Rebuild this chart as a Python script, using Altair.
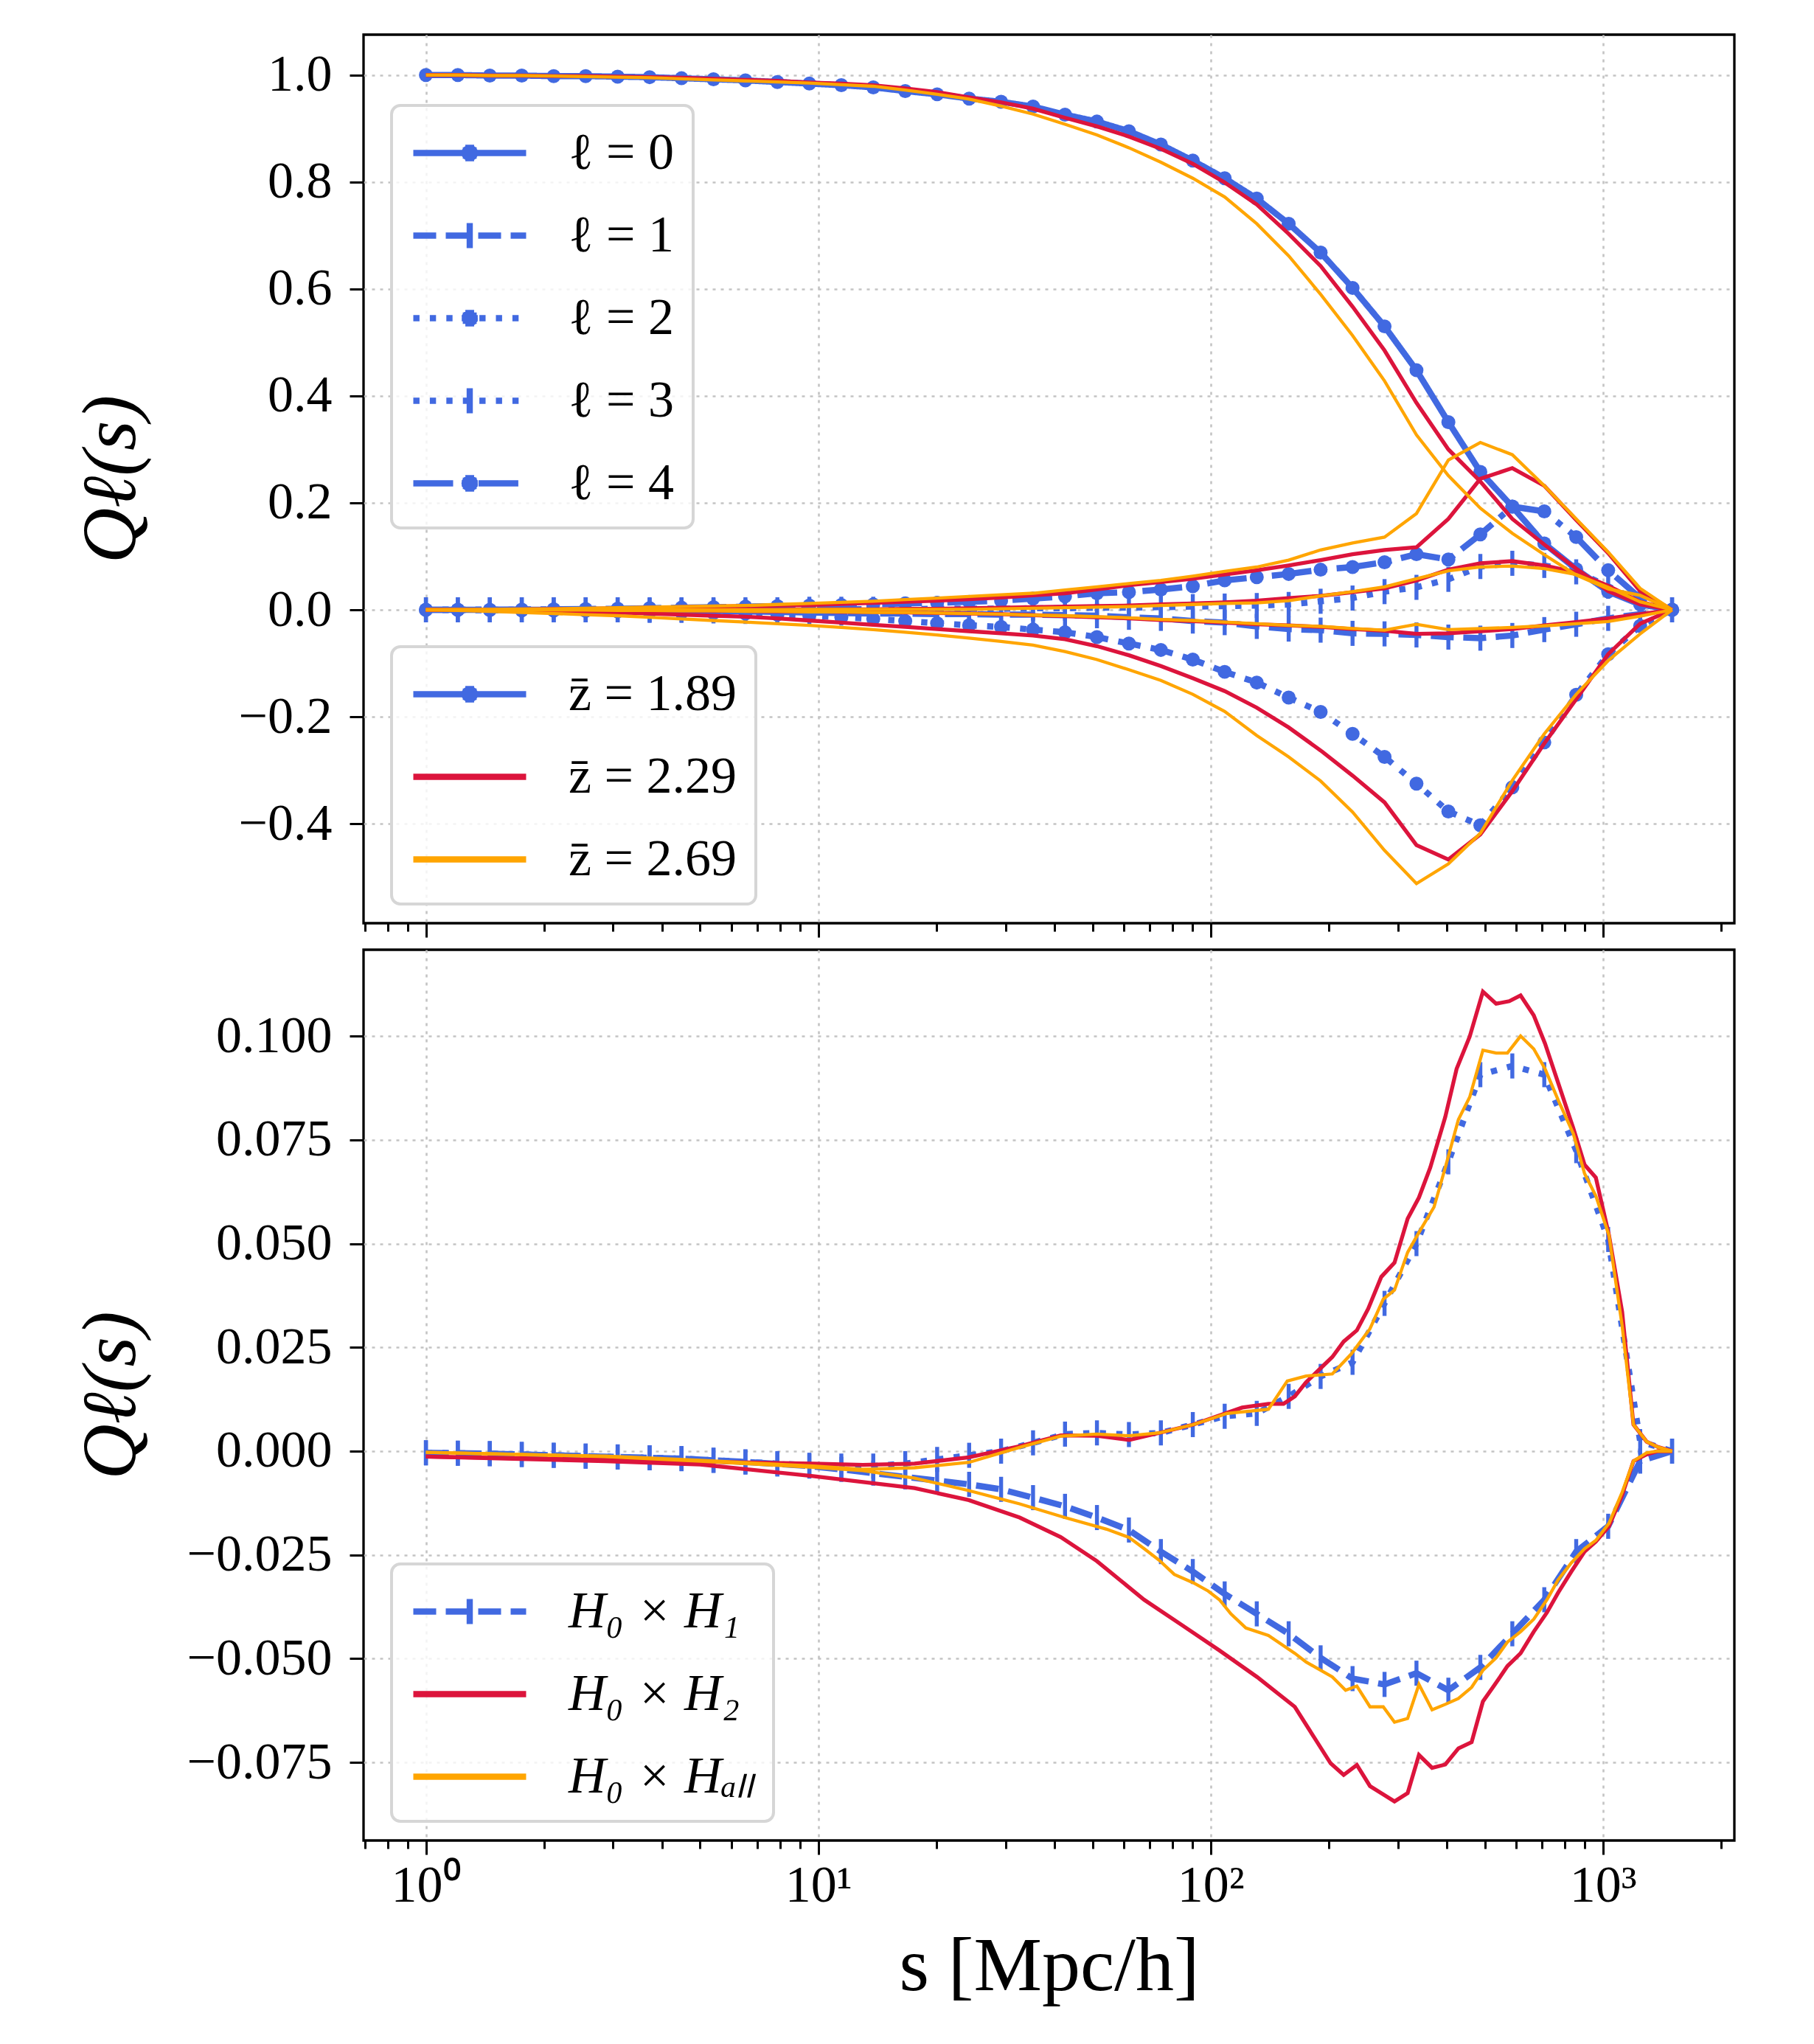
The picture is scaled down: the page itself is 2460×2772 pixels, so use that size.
import math
import altair as alt
import pandas as pd

BLUE = "#4169E1"
RED = "#DC143C"
ORANGE = "#FFA500"
FONT = "Liberation Serif"

# ---------------- data ----------------
# log-spaced separations s [Mpc/h] (40 points)
S = [1.0, 1.206, 1.455, 1.755, 2.117, 2.554, 3.081, 3.717, 4.482, 5.407,
     6.522, 7.867, 9.49, 11.45, 13.81, 16.66, 20.09, 24.24, 29.24, 35.27,
     42.55, 51.32, 61.91, 74.68, 90.07, 108.6, 131.1, 158.1, 190.7, 230.0,
     277.5, 334.7, 403.6, 486.9, 587.4, 708.6, 854.6, 1031.0, 1244.0, 1500.0]

# top panel, z = 1.89 (blue)
B0 = [1.0, 1.0, 0.999, 0.999, 0.998, 0.998, 0.997, 0.996, 0.994, 0.992, 0.990, 0.987, 0.984, 0.981, 0.977, 0.970, 0.964, 0.956, 0.950, 0.941, 0.926, 0.913, 0.895, 0.870, 0.840, 0.807, 0.769, 0.722, 0.668, 0.602, 0.530, 0.448, 0.351, 0.258, 0.193, 0.124, 0.076, 0.034, 0.010, 0.0]
B1 = [0.0, 0.0, 0.0, 0.0, 0.0, 0.0, 0.0, -0.001, -0.001, -0.002, -0.003, -0.004, -0.005, -0.006, -0.007, -0.007, -0.008, -0.008, -0.009, -0.009, -0.010, -0.011, -0.014, -0.016, -0.021, -0.024, -0.031, -0.036, -0.038, -0.044, -0.045, -0.047, -0.051, -0.053, -0.048, -0.037, -0.027, -0.016, -0.008, 0.0]
B2 = [0.0, 0.0, -0.0005, -0.001, -0.0015, -0.002, -0.003, -0.004, -0.005, -0.006, -0.007, -0.009, -0.011, -0.014, -0.017, -0.021, -0.025, -0.029, -0.032, -0.037, -0.042, -0.051, -0.063, -0.075, -0.093, -0.116, -0.136, -0.164, -0.191, -0.232, -0.275, -0.325, -0.377, -0.403, -0.332, -0.248, -0.159, -0.083, -0.030, 0.0]
B3 = [0.0, 0.0, 0.0, 0.0, 0.0, 0.0, 0.0, 0.0, 0.0, 0.0, 0.0, 0.0, 0.001, 0.001, 0.001, 0.001, 0.002, 0.002, 0.002, 0.003, 0.003, 0.004, 0.004, 0.005, 0.006, 0.007, 0.008, 0.010, 0.016, 0.022, 0.034, 0.042, 0.057, 0.081, 0.087, 0.083, 0.071, 0.044, 0.015, 0.0]
B4 = [0.0, 0.0, 0.0, 0.0005, 0.001, 0.0015, 0.002, 0.003, 0.004, 0.005, 0.006, 0.007, 0.008, 0.009, 0.010, 0.012, 0.013, 0.015, 0.017, 0.021, 0.025, 0.031, 0.033, 0.038, 0.044, 0.055, 0.061, 0.067, 0.075, 0.080, 0.089, 0.104, 0.094, 0.141, 0.193, 0.184, 0.136, 0.074, 0.022, 0.0]

# top panel, z = 2.29 (red)
R0 = [1.0, 1.0, 0.999, 0.999, 0.998, 0.998, 0.997, 0.996, 0.995, 0.993, 0.991, 0.989, 0.986, 0.984, 0.981, 0.975, 0.968, 0.958, 0.949, 0.937, 0.920, 0.904, 0.885, 0.862, 0.834, 0.799, 0.758, 0.703, 0.643, 0.567, 0.485, 0.387, 0.300, 0.240, 0.170, 0.122, 0.077, 0.035, 0.010, 0.0]
R1 = [0.0, 0.0, 0.0, 0.0, 0.0, 0.0, 0.0, -0.001, -0.001, -0.002, -0.002, -0.003, -0.003, -0.004, -0.004, -0.005, -0.006, -0.007, -0.008, -0.010, -0.012, -0.014, -0.016, -0.019, -0.021, -0.024, -0.027, -0.029, -0.032, -0.036, -0.039, -0.045, -0.044, -0.040, -0.036, -0.029, -0.023, -0.016, -0.008, 0.0]
R2 = [0.0, 0.0, -0.001, -0.002, -0.003, -0.004, -0.005, -0.007, -0.009, -0.011, -0.013, -0.016, -0.020, -0.024, -0.028, -0.032, -0.036, -0.040, -0.044, -0.048, -0.055, -0.068, -0.085, -0.105, -0.128, -0.152, -0.183, -0.220, -0.263, -0.310, -0.360, -0.440, -0.467, -0.420, -0.339, -0.250, -0.167, -0.083, -0.026, 0.0]
R3 = [0.0, 0.0, 0.0, 0.0, 0.0, 0.0, 0.0, 0.0, 0.0, 0.0, 0.0, 0.0, 0.001, 0.001, 0.001, 0.002, 0.002, 0.003, 0.004, 0.005, 0.006, 0.007, 0.008, 0.010, 0.012, 0.014, 0.017, 0.022, 0.026, 0.033, 0.040, 0.055, 0.075, 0.087, 0.091, 0.083, 0.070, 0.045, 0.015, 0.0]
R4 = [0.0, 0.0, 0.0005, 0.001, 0.0015, 0.002, 0.003, 0.004, 0.005, 0.006, 0.007, 0.008, 0.009, 0.011, 0.013, 0.015, 0.017, 0.020, 0.023, 0.027, 0.031, 0.038, 0.046, 0.052, 0.058, 0.066, 0.074, 0.083, 0.093, 0.104, 0.112, 0.117, 0.170, 0.245, 0.265, 0.232, 0.168, 0.106, 0.035, 0.0]

# top panel, z = 2.69 (orange)
O0 = [1.0, 1.0, 0.999, 0.999, 0.998, 0.997, 0.996, 0.995, 0.993, 0.991, 0.989, 0.987, 0.985, 0.982, 0.979, 0.972, 0.964, 0.955, 0.942, 0.927, 0.908, 0.888, 0.864, 0.837, 0.807, 0.772, 0.722, 0.662, 0.590, 0.513, 0.428, 0.327, 0.251, 0.190, 0.143, 0.103, 0.065, 0.039, 0.027, 0.0]
O1 = [0.0, 0.0, 0.0, 0.0, 0.0, 0.0, -0.001, -0.001, -0.002, -0.002, -0.003, -0.003, -0.004, -0.004, -0.005, -0.005, -0.006, -0.007, -0.008, -0.010, -0.011, -0.013, -0.015, -0.018, -0.020, -0.023, -0.026, -0.029, -0.031, -0.035, -0.038, -0.027, -0.037, -0.035, -0.033, -0.030, -0.026, -0.022, -0.012, 0.0]
O2 = [0.0, -0.001, -0.003, -0.005, -0.007, -0.009, -0.011, -0.014, -0.017, -0.020, -0.023, -0.026, -0.029, -0.033, -0.037, -0.042, -0.047, -0.053, -0.059, -0.066, -0.078, -0.093, -0.112, -0.132, -0.158, -0.190, -0.235, -0.275, -0.320, -0.378, -0.450, -0.512, -0.475, -0.418, -0.319, -0.232, -0.158, -0.095, -0.045, 0.0]
O3 = [0.0, 0.0, 0.0, 0.0, 0.0, 0.0, 0.0, 0.0, 0.0, 0.0, 0.0, 0.0, 0.001, 0.001, 0.001, 0.001, 0.001, 0.001, 0.002, 0.003, 0.004, 0.005, 0.006, 0.008, 0.010, 0.012, 0.013, 0.017, 0.026, 0.034, 0.043, 0.058, 0.073, 0.080, 0.082, 0.077, 0.066, 0.042, 0.015, 0.0]
O4 = [0.0, 0.0005, 0.001, 0.0015, 0.002, 0.003, 0.004, 0.005, 0.006, 0.007, 0.008, 0.010, 0.012, 0.014, 0.016, 0.019, 0.022, 0.025, 0.028, 0.031, 0.037, 0.043, 0.049, 0.055, 0.063, 0.072, 0.080, 0.093, 0.112, 0.125, 0.136, 0.180, 0.280, 0.313, 0.290, 0.232, 0.170, 0.108, 0.040, 0.0]

# bottom panel, H0 x H1 (blue), l=1 (dashed) and l=3 (dotted)
BB1 = [-0.0004, -0.0005, -0.0006, -0.0008, -0.0010, -0.0012, -0.0014, -0.0016, -0.0018, -0.0022, -0.0026, -0.0031, -0.0036, -0.0044, -0.0053, -0.0062, -0.0071, -0.0080, -0.0092, -0.0112, -0.0133, -0.0160, -0.0190, -0.0242, -0.0290, -0.0344, -0.0392, -0.0440, -0.0498, -0.0548, -0.0562, -0.0535, -0.0576, -0.0521, -0.0440, -0.0358, -0.0242, -0.0181, -0.0024, 0.0]
BB3 = [-0.0004, -0.0005, -0.0006, -0.0008, -0.0010, -0.0012, -0.0014, -0.0016, -0.0018, -0.0022, -0.0026, -0.0030, -0.0034, -0.0036, -0.0036, -0.0030, -0.0020, -0.0010, 0.0, 0.0020, 0.0041, 0.0044, 0.0040, 0.0044, 0.0064, 0.0084, 0.0091, 0.0132, 0.0180, 0.0214, 0.0356, 0.0500, 0.0697, 0.0907, 0.0928, 0.0907, 0.0724, 0.0510, 0.0023, 0.0]

# bottom panel, H0 x H2 (red): upper (l=3) and lower (l=1) branches
RU_S = [1.0, 2.86, 9.7, 13.0, 17.6, 24.2, 32.6, 41.5, 51.3, 62.0, 74.0, 90.3, 120.3, 140.4, 153.4, 163.9, 175.1, 204.3, 218.3, 235.9, 252.1, 272.3, 294.2, 317.8, 339.6, 362.9, 396.3, 423.6, 457.5, 494.3, 534.1, 576.9, 616.6, 666.1, 711.7, 768.8, 840.2, 897.5, 959.0, 1036.0, 1119.0, 1196.0, 1292.0, 1380.0, 1501.0]
RU_V = [-0.0013, -0.0021, -0.0030, -0.0033, -0.0030, -0.0015, 0.0012, 0.0038, 0.0037, 0.0027, 0.0044, 0.0064, 0.0105, 0.0114, 0.0114, 0.0132, 0.0166, 0.0227, 0.0264, 0.0291, 0.0343, 0.0420, 0.0454, 0.0560, 0.0611, 0.0683, 0.0805, 0.0921, 0.0999, 0.1107, 0.1078, 0.1084, 0.1098, 0.1050, 0.0982, 0.0887, 0.0778, 0.0690, 0.0659, 0.0520, 0.0336, 0.0064, 0.0023, 0.0010, 0.0]
RL_S = [1.0, 2.86, 5.0, 9.7, 17.6, 24.2, 32.6, 41.5, 51.3, 67.7, 84.5, 105.3, 131.3, 163.9, 202.2, 218.3, 235.9, 254.8, 275.4, 294.2, 317.8, 339.6, 366.8, 396.3, 428.1, 462.6, 494.3, 534.1, 570.7, 616.6, 666.1, 719.5, 768.8, 830.6, 897.5, 959.0, 1036.0, 1119.0, 1196.0, 1292.0, 1380.0, 1501.0]
RL_V = [-0.0013, -0.0024, -0.0032, -0.0060, -0.0089, -0.0118, -0.0160, -0.0207, -0.0265, -0.0358, -0.0419, -0.0480, -0.0544, -0.0616, -0.0752, -0.0780, -0.0756, -0.0807, -0.0827, -0.0844, -0.0824, -0.0732, -0.0763, -0.0755, -0.0716, -0.0701, -0.0603, -0.0558, -0.0518, -0.0487, -0.0435, -0.0389, -0.0341, -0.0290, -0.0242, -0.0218, -0.0181, -0.0106, -0.0024, -0.0008, 0.0, 0.0]

# bottom panel, H0 x Hall (orange)
OU_S = [1.0, 2.86, 5.0, 9.7, 13.0, 17.6, 24.2, 32.6, 41.5, 51.3, 62.0, 74.0, 90.3, 110.1, 140.4, 156.8, 175.1, 204.3, 228.2, 254.8, 275.4, 294.2, 317.8, 339.6, 371.0, 396.3, 428.1, 457.5, 494.3, 534.1, 570.7, 616.6, 666.1, 711.7, 768.8, 840.2, 897.5, 959.0, 1036.0, 1119.0, 1196.0, 1292.0, 1380.0, 1501.0]
OU_V = [-0.0003, -0.0012, -0.0022, -0.0036, -0.0044, -0.0040, -0.0027, 0.0009, 0.0036, 0.0041, 0.0037, 0.0044, 0.0064, 0.0091, 0.0101, 0.0169, 0.0181, 0.0186, 0.0234, 0.0295, 0.0366, 0.0388, 0.0479, 0.0527, 0.0588, 0.0683, 0.0799, 0.0853, 0.0966, 0.0959, 0.0959, 0.1000, 0.0969, 0.0921, 0.0846, 0.0765, 0.0669, 0.0615, 0.0520, 0.0302, 0.0064, 0.0023, 0.0010, 0.0]
OL_S = [1.0, 2.86, 5.0, 9.7, 13.0, 17.6, 24.2, 32.6, 42.5, 54.3, 62.0, 67.7, 74.0, 80.8, 90.3, 98.6, 105.3, 112.6, 123.0, 140.4, 163.9, 175.1, 204.3, 220.8, 235.9, 254.8, 275.4, 294.2, 317.8, 339.6, 366.8, 396.3, 428.1, 462.6, 494.3, 534.1, 570.7, 616.6, 666.1, 719.5, 768.8, 830.6, 897.5, 959.0, 1036.0, 1119.0, 1196.0, 1292.0, 1380.0, 1501.0]
OL_V = [-0.0003, -0.0013, -0.0024, -0.0039, -0.0047, -0.0065, -0.0095, -0.0127, -0.0160, -0.0188, -0.0208, -0.0235, -0.0263, -0.0297, -0.0317, -0.0337, -0.0358, -0.0392, -0.0426, -0.0444, -0.0487, -0.0508, -0.0544, -0.0576, -0.0566, -0.0616, -0.0616, -0.0653, -0.0644, -0.0562, -0.0623, -0.0610, -0.0596, -0.0569, -0.0528, -0.0498, -0.0460, -0.0435, -0.0405, -0.0358, -0.0310, -0.0269, -0.0235, -0.0215, -0.0174, -0.0099, -0.0024, -0.0004, 0.0, 0.0]

ELL = ["0", "1", "2", "3", "4"]
ELL_LABELS = ["\u2113 = 0", "\u2113 = 1", "\u2113 = 2", "\u2113 = 3", "\u2113 = 4"]
Z_LABELS = ["z\u0304 = 1.89", "z\u0304 = 2.29", "z\u0304 = 2.69"]
H_LABELS = ["H\u2080 \u00d7 H\u2081", "H\u2080 \u00d7 H\u2082", "H\u2080 \u00d7 H\u2090\u2097\u2097"]
XTICKS = [0.7, 0.8, 0.9, 1, 2, 3, 4, 5, 6, 7, 8, 9, 10, 20, 30, 40, 50, 60, 70, 80, 90,
          100, 200, 300, 400, 500, 600, 700, 800, 900, 1000, 2000]
YTICKS_TOP = [-0.4, -0.2, 0.0, 0.2, 0.4, 0.6, 0.8, 1.0]
YTICKS_BOT = [-0.075, -0.05, -0.025, 0.0, 0.025, 0.05, 0.075, 0.1]

# ---------------- tables ----------------
def long_table(arrays, keys, xs=S):
    rows = []
    for key, arr in zip(keys, arrays):
        for s, v in zip(xs, arr):
            rows.append({"s": s, "v": v, "ell": key})
    return pd.DataFrame(rows)

top_blue = long_table([B0, B1, B2, B3, B4], ELL)
top_red = long_table([R0, R1, R2, R3, R4], ELL)
top_orange = long_table([O0, O1, O2, O3, O4], ELL)
bot_blue = long_table([BB1, BB3], ["1", "3"])
bot_red = pd.concat([
    pd.DataFrame({"s": RU_S, "v": RU_V, "ell": "3"}),
    pd.DataFrame({"s": RL_S, "v": RL_V, "ell": "1"})])
bot_orange = pd.concat([
    pd.DataFrame({"s": OU_S, "v": OU_V, "ell": "3"}),
    pd.DataFrame({"s": OL_S, "v": OL_V, "ell": "1"})])

# ---------------- styles ----------------
W = 1859
H_TOP = 1205
H_BOT = 1208
LW_B = 8.4
LW_R = 5.3
LW_O = 4.3
DASHES = [[1, 0], [31, 13], [8.4, 14], [8.4, 14], [54, 13, 8.4, 13]]
TICK_SHAPE = "M0,-1V1"
GRID_COLOR = "#c4c4c4"
GRID_DASH = [4, 7]

MAJOR = "abs(log(datum.value)/LN10 - round(log(datum.value)/LN10)) < 0.001"
LABEL_EXPR = ("datum.value == 1 ? '10\u2070' : datum.value == 10 ? '10\u00b9' : "
              "datum.value == 100 ? '10\u00b2' : datum.value == 1000 ? '10\u00b3' : ''")

XSCALE = alt.Scale(type="log", domain=[0.6935, 2162], nice=False)


def x_axis(bottom):
    kw = dict(values=XTICKS, grid=True, gridColor=GRID_COLOR, gridDash=GRID_DASH, gridWidth=2.6,
              gridOpacity={"condition": {"test": MAJOR, "value": 1}, "value": 0},
              tickSize={"condition": {"test": MAJOR, "value": 19}, "value": 11},
              tickWidth=3, tickColor="black", domain=False, labelOverlap=False,
              labelFlush=False)
    if bottom:
        kw.update(labelExpr=LABEL_EXPR, labelFont=FONT, labelFontSize=70, labelPadding=8,
                  title="s [Mpc/h]", titleFont=FONT, titleFontSize=104, titleColor="black",
                  titleFontWeight="normal", titlePadding=24, labelColor="black")
    else:
        kw.update(labels=False, title=None)
    return alt.Axis(**kw)


def y_axis(values, fmt, h):
    return alt.Axis(values=values, format=fmt, grid=True, domain=False,
                    gridColor=GRID_COLOR, gridDash=GRID_DASH, gridWidth=2.6,
                    tickSize=19, tickWidth=3, tickColor="black",
                    labelFont=FONT, labelFontSize=70, labelPadding=24, labelColor="black",
                    labelLimit=0,
                    title="Q\u2113(s)", titleFont=FONT, titleFontSize=104, titleColor="black",
                    titleFontStyle="italic", titleFontWeight="normal",
                    titleX=-342, titleY=h / 2, titleAngle=270,
                    titleAlign="center", titleBaseline="middle")


# legend symbols: custom paths (line + marker); r = sqrt(4900)/2 = 35 px
SYM = 4900
L_END = 3.371
CX = 1.186
LINE = f"M-1,0H{L_END}"
# filled dot: small filled polygon plus short stroked chords (each shorter than one dash)
poly = []
for i in range(16):
    a = 2 * math.pi * i / 16
    poly.append(f"{CX + 0.2 * math.cos(a):.3f},{0.2 * math.sin(a):.3f}")
DOT_FILL = "M" + "L".join(poly) + "Z"
DOT_ROWS = [(-0.2, 0.17), (-0.1, 0.27), (0.0, 0.31), (0.1, 0.27), (0.2, 0.17)]
dot_parts = []
for yy, hw in DOT_ROWS:
    n = max(2, math.ceil(2 * hw / 0.19))
    step = 2 * hw / n
    for i in range(n):
        x0 = CX - hw + i * step
        dot_parts.append(f"M{x0:.3f},{yy:.3f}H{x0 + step:.3f}")
DOT = DOT_FILL + "".join(dot_parts)
TICK = "".join(f"M{CX},{-0.486 + 0.1944 * i:.3f}V{-0.486 + 0.1944 * (i + 1):.3f}" for i in range(5))
SYM_DOT = LINE + DOT
SYM_TICK = LINE + TICK


def legend(x, y, style="normal"):
    return alt.Legend(orient="none", legendX=x, legendY=y, title=None, direction="vertical",
                      labelFont=FONT, labelFontSize=70, labelColor="black", labelFontStyle=style,
                      symbolSize=SYM, symbolStrokeWidth=LW_B, rowPadding=37,
                      labelOffset=136, padding=25, fillColor="rgba(255,255,255,0.8)",
                      strokeColor="#d6d6d6", cornerRadius=12, labelLimit=0, symbolLimit=0)


def legend_layer(field, labels, shapes, colors, dashes, lx, ly, style="normal"):
    df = pd.DataFrame({"s": [1.0] * len(labels), "v": [0.0] * len(labels), field: labels})
    leg = legend(lx, ly, style)
    return alt.Chart(df).transform_filter("false").mark_point(
        filled=True, opacity=1, size=SYM, strokeWidth=LW_B).encode(
        x=alt.X("s:Q", scale=XSCALE),
        y=alt.Y("v:Q"),
        shape=alt.Shape(f"{field}:N", scale=alt.Scale(domain=labels, range=shapes), legend=leg),
        fill=alt.Fill(f"{field}:N", scale=alt.Scale(domain=labels, range=colors), legend=leg),
        stroke=alt.Stroke(f"{field}:N", scale=alt.Scale(domain=labels, range=colors), legend=leg),
        strokeDash=alt.StrokeDash(f"{field}:N", scale=alt.Scale(domain=labels, range=dashes), legend=leg),
    )


def panel(blue_df, red_df, orange_df, ydomain, yvalues, yfmt, h, bottom, legends):
    X = alt.X("s:Q", scale=XSCALE, axis=x_axis(bottom))
    Y = alt.Y("v:Q", scale=alt.Scale(domain=ydomain, nice=False, zero=False),
              axis=y_axis(yvalues, yfmt, h))
    dash_dom = ELL if not bottom else ["1", "3"]
    dash_rng = DASHES if not bottom else [DASHES[1], DASHES[3]]
    blue_lines = alt.Chart(blue_df).mark_line(color=BLUE, strokeWidth=LW_B).encode(
        x=X, y=Y,
        strokeDash=alt.StrokeDash("ell:N", scale=alt.Scale(domain=dash_dom, range=dash_rng), legend=None))
    dots = alt.Chart(blue_df).transform_filter(
        alt.FieldOneOfPredicate(field="ell", oneOf=["0", "2", "4"])).mark_point(
        shape="circle", filled=True, size=360, color=BLUE, opacity=1).encode(x=X, y=Y)
    ticks = alt.Chart(blue_df).transform_filter(
        alt.FieldOneOfPredicate(field="ell", oneOf=["1", "3"])).mark_point(
        shape=TICK_SHAPE, filled=False, size=1156, strokeWidth=5.4, color=BLUE, opacity=1).encode(x=X, y=Y)
    red = alt.Chart(red_df).mark_line(color=RED, strokeWidth=LW_R).encode(x=X, y=Y, detail="ell:N")
    orange = alt.Chart(orange_df).mark_line(color=ORANGE, strokeWidth=LW_O).encode(x=X, y=Y, detail="ell:N")
    layers = [blue_lines, dots, ticks, red, orange]
    ch = alt.layer(*layers, *legends).resolve_scale(
        shape="independent", fill="independent", stroke="independent", strokeDash="independent")
    return ch.properties(width=W, height=h)


leg_ell = legend_layer("lab", ELL_LABELS, [SYM_DOT, SYM_TICK, SYM_DOT, SYM_TICK, SYM_DOT],
                       [BLUE] * 5, DASHES, 38, 96)
leg_z = legend_layer("zlab", Z_LABELS, [SYM_DOT, LINE, LINE], [BLUE, RED, ORANGE],
                     [[1, 0], [1, 0], [1, 0]], 38, 830)
leg_h = legend_layer("hlab", H_LABELS, [SYM_TICK, LINE, LINE], [BLUE, RED, ORANGE],
                     [DASHES[1], [1, 0], [1, 0]], 38, 833, style="italic")

top = panel(top_blue, top_red, top_orange, [-0.586, 1.0755], YTICKS_TOP, ".1f", H_TOP, False,
            [leg_ell, leg_z])
bot = panel(bot_blue, bot_red, bot_orange, [-0.0938, 0.1208], YTICKS_BOT, ".3f", H_BOT, True,
            [leg_h])

chart = alt.vconcat(top, bot, spacing=11).properties(
    padding={"left": 89, "top": 37, "right": 30, "bottom": 20},
    background="white",
).configure_view(
    stroke="black", strokeWidth=3.3
).configure_legend(
    strokeWidth=4
)

chart.save("out.html", embed_options={"renderer": "svg", "actions": False})
